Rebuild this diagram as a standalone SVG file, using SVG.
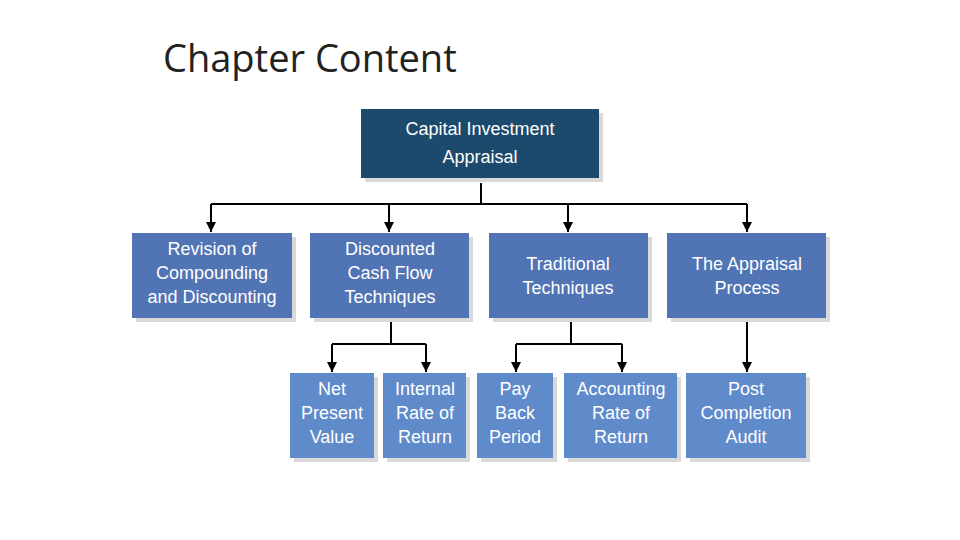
<svg xmlns="http://www.w3.org/2000/svg" width="960" height="540" viewBox="0 0 960 540">
<defs>
<marker id="ah" viewBox="0 0 10 10" refX="10" refY="5" markerWidth="5" markerHeight="5" orient="auto"><path d="M0,0L10,5L0,10z" fill="#000"/></marker>
<style>
.sh{fill:#d9d9d9}
.t{font-family:"Liberation Sans",Arial,sans-serif;font-size:18px;fill:#fff;text-anchor:middle}
.c{stroke:#000;stroke-width:2;fill:none}
.l2{fill:#5174b5}
.l3{fill:#5f8bcb}
</style>
</defs>
<rect width="960" height="540" fill="#fff"/>
<text x="163" y="72" font-family="'Open Sans','Liberation Sans',sans-serif" font-size="38" fill="#222">Chapter Content</text>
<g id="connectors">
<path class="c" d="M481,183V204M211,204H747"/>
<path class="c" marker-end="url(#ah)" d="M211,204V232"/>
<path class="c" marker-end="url(#ah)" d="M389,204V232"/>
<path class="c" marker-end="url(#ah)" d="M568,204V232"/>
<path class="c" marker-end="url(#ah)" d="M747,204V232"/>
<path class="c" d="M391,322V344M332,344H426"/>
<path class="c" marker-end="url(#ah)" d="M332,344V372"/>
<path class="c" marker-end="url(#ah)" d="M426,344V372"/>
<path class="c" d="M571,322V344M516,344H622"/>
<path class="c" marker-end="url(#ah)" d="M516,344V372"/>
<path class="c" marker-end="url(#ah)" d="M622,344V372"/>
<path class="c" marker-end="url(#ah)" d="M747,322V372"/>
</g>
<g id="root"><rect class="sh" x="365" y="113" width="238" height="69"/><rect x="361" y="109" width="238" height="69" fill="#1c4a6c"/>
<text class="t" x="480" y="135" font-size="20">Capital Investment</text><text class="t" x="480" y="163" font-size="20">Appraisal</text></g>
<g id="n1"><rect class="sh" x="136" y="237" width="160" height="85"/><rect class="l2" x="132" y="233" width="160" height="85"/>
<text class="t" x="212" y="255">Revision of</text><text class="t" x="212" y="279">Compounding</text><text class="t" x="212" y="303">and Discounting</text></g>
<g id="n2"><rect class="sh" x="314" y="237" width="159" height="85"/><rect class="l2" x="310" y="233" width="159" height="85"/>
<text class="t" x="390" y="255">Discounted</text><text class="t" x="390" y="279">Cash Flow</text><text class="t" x="390" y="303">Techniques</text></g>
<g id="n3"><rect class="sh" x="493" y="237" width="159" height="85"/><rect class="l2" x="489" y="233" width="159" height="85"/>
<text class="t" x="568" y="270">Traditional</text><text class="t" x="568" y="294">Techniques</text></g>
<g id="n4"><rect class="sh" x="671" y="237" width="159" height="85"/><rect class="l2" x="667" y="233" width="159" height="85"/>
<text class="t" x="747" y="270">The Appraisal</text><text class="t" x="747" y="294">Process</text></g>
<g id="n5"><rect class="sh" x="294" y="377" width="84" height="85"/><rect class="l3" x="290" y="373" width="84" height="85"/>
<text class="t" x="332" y="395">Net</text><text class="t" x="332" y="419">Present</text><text class="t" x="332" y="443">Value</text></g>
<g id="n6"><rect class="sh" x="387" y="377" width="83" height="85"/><rect class="l3" x="383" y="373" width="83" height="85"/>
<text class="t" x="425" y="395">Internal</text><text class="t" x="425" y="419">Rate of</text><text class="t" x="425" y="443">Return</text></g>
<g id="n7"><rect class="sh" x="481" y="377" width="76" height="85"/><rect class="l3" x="477" y="373" width="76" height="85"/>
<text class="t" x="515" y="395">Pay</text><text class="t" x="515" y="419">Back</text><text class="t" x="515" y="443">Period</text></g>
<g id="n8"><rect class="sh" x="568" y="377" width="113" height="85"/><rect class="l3" x="564" y="373" width="113" height="85"/>
<text class="t" x="621" y="395">Accounting</text><text class="t" x="621" y="419">Rate of</text><text class="t" x="621" y="443">Return</text></g>
<g id="n9"><rect class="sh" x="690" y="377" width="120" height="85"/><rect class="l3" x="686" y="373" width="120" height="85"/>
<text class="t" x="746" y="395">Post</text><text class="t" x="746" y="419">Completion</text><text class="t" x="746" y="443">Audit</text></g>
</svg>
